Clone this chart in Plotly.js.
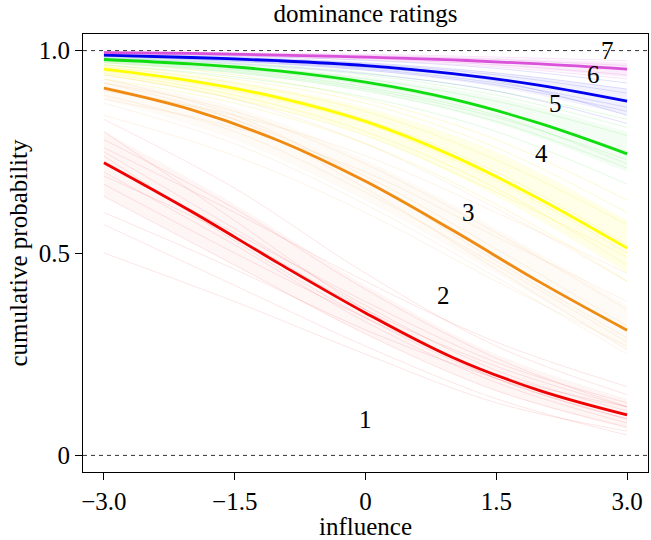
<!DOCTYPE html>
<html>
<head>
<meta charset="utf-8">
<script src="https://cdn.plot.ly/plotly-3.0.1.min.js"></script>
<style>
  body { margin: 0; background: #fff; }
  #chart { width: 651px; height: 540px; }
</style>
</head>
<body>
<div id="chart"></div>
<script>
// mean curves (read at x = -3..3)
const meanX = [-3, -2, -1, 0, 1, 2, 3];
const mean1 = [0.723, 0.603, 0.475, 0.352, 0.242, 0.160, 0.100];
const mean2 = [0.907, 0.854, 0.778, 0.677, 0.556, 0.428, 0.309];
const mean3 = [0.954, 0.925, 0.884, 0.825, 0.740, 0.633, 0.512];
const mean4 = [0.978, 0.967, 0.950, 0.922, 0.880, 0.820, 0.745];
const mean5 = [0.989, 0.983, 0.975, 0.963, 0.943, 0.914, 0.875];
const mean6 = [0.995, 0.993, 0.989, 0.984, 0.977, 0.967, 0.954];

// a few of the faint posterior curves for each level
const sampleX = [-3, -1.5, 0, 1.5, 3];
const samples1 = [
  [0.83, 0.66, 0.45, 0.27, 0.15],
  [0.80, 0.58, 0.36, 0.19, 0.09],
  [0.78, 0.61, 0.41, 0.24, 0.12],
  [0.75, 0.56, 0.37, 0.21, 0.11],
  [0.72, 0.55, 0.38, 0.23, 0.13],
  [0.70, 0.52, 0.33, 0.18, 0.08],
  [0.67, 0.50, 0.34, 0.20, 0.12],
  [0.64, 0.47, 0.30, 0.16, 0.07],
  [0.60, 0.46, 0.31, 0.19, 0.10],
  [0.57, 0.42, 0.27, 0.14, 0.05],
  [0.50, 0.38, 0.25, 0.13, 0.06],
  [0.76, 0.60, 0.43, 0.28, 0.17],
  [0.74, 0.53, 0.34, 0.19, 0.09],
  [0.69, 0.54, 0.36, 0.22, 0.12]
];
const samples2 = [
  [0.94, 0.88, 0.77, 0.61, 0.43],
  [0.92, 0.85, 0.72, 0.55, 0.36],
  [0.93, 0.84, 0.68, 0.48, 0.29],
  [0.91, 0.83, 0.69, 0.51, 0.32],
  [0.89, 0.80, 0.65, 0.47, 0.28],
  [0.87, 0.77, 0.62, 0.44, 0.25],
  [0.84, 0.74, 0.60, 0.43, 0.27],
  [0.90, 0.84, 0.74, 0.60, 0.45],
  [0.88, 0.81, 0.70, 0.54, 0.38],
  [0.92, 0.83, 0.66, 0.46, 0.26]
];
const samples3 = [
  [0.97, 0.94, 0.88, 0.78, 0.63],
  [0.96, 0.92, 0.85, 0.73, 0.57],
  [0.955, 0.91, 0.83, 0.70, 0.52],
  [0.945, 0.89, 0.80, 0.66, 0.47],
  [0.93, 0.87, 0.77, 0.62, 0.43],
  [0.94, 0.88, 0.79, 0.65, 0.49],
  [0.965, 0.93, 0.87, 0.76, 0.60],
  [0.95, 0.90, 0.82, 0.68, 0.50]
];
const samples4 = [
  [0.985, 0.97, 0.945, 0.90, 0.83],
  [0.98, 0.962, 0.93, 0.875, 0.79],
  [0.976, 0.955, 0.917, 0.85, 0.75],
  [0.97, 0.945, 0.90, 0.825, 0.71],
  [0.965, 0.935, 0.885, 0.80, 0.67],
  [0.972, 0.948, 0.905, 0.835, 0.73],
  [0.982, 0.966, 0.94, 0.89, 0.81],
  [0.974, 0.952, 0.91, 0.84, 0.72]
];
const samples5 = [
  [0.993, 0.987, 0.976, 0.956, 0.92],
  [0.99, 0.982, 0.967, 0.94, 0.895],
  [0.988, 0.978, 0.96, 0.93, 0.875],
  [0.985, 0.973, 0.952, 0.915, 0.85],
  [0.982, 0.968, 0.943, 0.90, 0.82],
  [0.986, 0.975, 0.955, 0.92, 0.86],
  [0.991, 0.984, 0.97, 0.945, 0.905],
  [0.987, 0.977, 0.958, 0.925, 0.84]
];
const samples6 = [
  [0.997, 0.995, 0.991, 0.984, 0.975],
  [0.996, 0.993, 0.988, 0.978, 0.963],
  [0.995, 0.991, 0.984, 0.972, 0.953],
  [0.994, 0.989, 0.98, 0.965, 0.94],
  [0.993, 0.987, 0.977, 0.96, 0.93]
];

// where the faint curves are densest (upper / lower edge)
const bandHi = [
  [0.80, 0.62, 0.42, 0.25, 0.14],
  [0.93, 0.86, 0.73, 0.56, 0.37],
  [0.965, 0.925, 0.86, 0.75, 0.58],
  [0.983, 0.966, 0.935, 0.885, 0.80],
  [0.991, 0.984, 0.97, 0.945, 0.905],
  [0.997, 0.994, 0.99, 0.982, 0.97]
];
const bandLo = [
  [0.64, 0.47, 0.30, 0.16, 0.065],
  [0.88, 0.78, 0.63, 0.45, 0.26],
  [0.94, 0.88, 0.79, 0.64, 0.45],
  [0.972, 0.945, 0.90, 0.82, 0.70],
  [0.985, 0.972, 0.95, 0.91, 0.84],
  [0.993, 0.988, 0.979, 0.962, 0.935]
];

const colors = ['#f00000', '#f08a10', '#ffff00', '#10dd10', '#0000ee', '#da52da'];
const faint = ['rgba(240,0,0,0.10)', 'rgba(240,138,16,0.10)', 'rgba(240,230,0,0.18)',
               'rgba(16,221,16,0.12)', 'rgba(0,0,238,0.12)', 'rgba(218,82,218,0.16)'];
const wash = ['rgba(240,0,0,0.04)', 'rgba(240,138,16,0.045)', 'rgba(255,255,0,0.09)',
              'rgba(16,221,16,0.05)', 'rgba(0,0,238,0.05)', 'rgba(218,82,218,0.10)'];

const levelLabels = ['1', '2', '3', '4', '5', '6', '7'];
const labelX = [0, 0.89, 1.18, 2.02, 2.18, 2.62, 2.78];
const labelY = [0.088, 0.396, 0.60, 0.747, 0.87, 0.94, 1.0];

const xTicks = [-3, -1.5, 0, 1.5, 3];
const xTickText = ['\u22123.0', '\u22121.5', '0', '1.5', '3.0'];
const yTicks = [0, 0.5, 1];
const yTickText = ['0', '0.5', '1.0'];

const means = [mean1, mean2, mean3, mean4, mean5, mean6];
const sampleSets = [samples1, samples2, samples3, samples4, samples5, samples6];

const traces = [];
bandHi.forEach((hi, k) => {
  traces.push({x: sampleX, y: hi, mode: 'lines', hoverinfo: 'skip',
               line: {width: 0, shape: 'spline'}});
  traces.push({x: sampleX, y: bandLo[k], mode: 'lines', hoverinfo: 'skip',
               fill: 'tonexty', fillcolor: wash[k],
               line: {width: 0, shape: 'spline'}});
});
sampleSets.forEach((set, k) => {
  set.forEach(s => {
    traces.push({
      x: sampleX, y: s, mode: 'lines', hoverinfo: 'skip',
      line: {color: faint[k], width: 1, shape: 'spline'}
    });
  });
});
means.forEach((m, k) => {
  traces.push({
    x: meanX, y: m, mode: 'lines', hoverinfo: 'skip',
    line: {color: colors[k], width: 2.8, shape: 'spline'}
  });
});

const font = {family: '"Liberation Serif", "Times New Roman", serif', size: 25, color: '#000'};

const layout = {
  width: 651, height: 540,
  margin: {l: 83, r: 3, t: 34, b: 68},
  paper_bgcolor: '#fff', plot_bgcolor: '#fff',
  showlegend: false,
  font: font,
  title: {text: 'dominance ratings', font: font, x: 0.5, xref: 'paper',
          y: 0.975, yref: 'container', yanchor: 'middle'},
  xaxis: {
    range: [-3.24, 3.24], showgrid: false, zeroline: false,
    showline: true, linecolor: '#000', linewidth: 1, mirror: true,
    ticks: 'outside', ticklen: 7, tickcolor: '#000',
    tickvals: xTicks, ticktext: xTickText, tickfont: font,
    title: {text: 'influence', font: font, standoff: 0}
  },
  yaxis: {
    range: [-0.041, 1.041], showgrid: false, zeroline: false,
    showline: true, linecolor: '#000', linewidth: 1, mirror: true,
    ticks: 'outside', ticklen: 7, tickcolor: '#000',
    tickvals: yTicks, ticktext: yTickText, tickfont: font,
    title: {text: 'cumulative probability', font: font, standoff: 4}
  },
  shapes: [0, 1].map(v => ({
    type: 'line', xref: 'paper', yref: 'y', x0: 0, x1: 1, y0: v, y1: v,
    line: {color: '#333', width: 1, dash: '4px,4px'}
  })),
  annotations: levelLabels.map((t, i) => ({
    x: labelX[i], y: labelY[i], text: t, showarrow: false, font: font,
    xanchor: 'center', yanchor: 'middle'
  }))
};

Plotly.newPlot('chart', traces, layout, {staticPlot: true});
</script>
</body>
</html>
